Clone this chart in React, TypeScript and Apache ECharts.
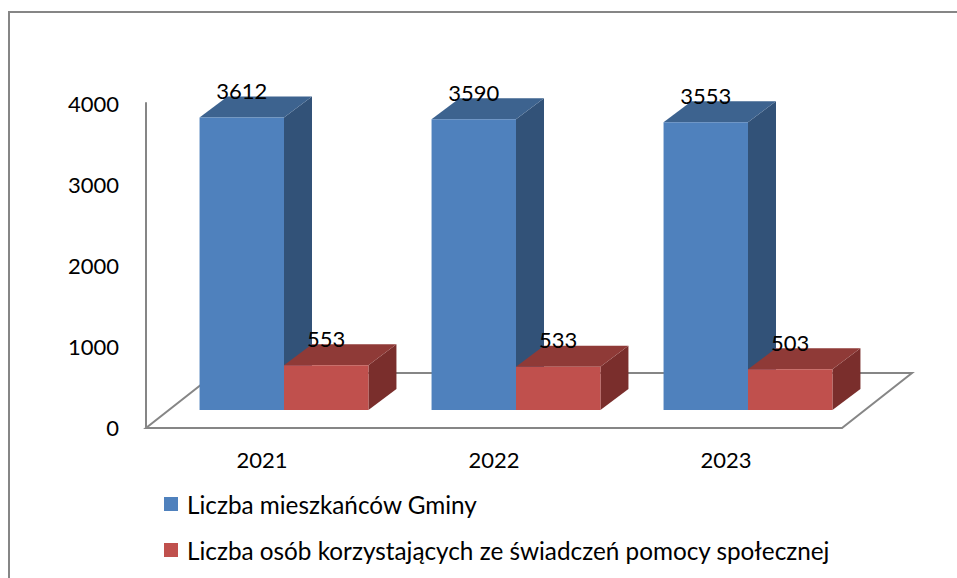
import React, { useEffect, useRef } from "react";
import * as echarts from "echarts";

const categories = ["2021", "2022", "2023"];
const residents = [3612, 3590, 3553];
const beneficiaries = [553, 533, 503];
const seriesNames = [
  "Liczba mieszkańców Gminy",
  "Liczba osób korzystających ze świadczeń pomocy społecznej",
];
const yMin = 0;
const yMax = 4000;
const yInterval = 1000;

const FONT = "Lato, 'Open Sans', sans-serif";
const BAR_RATIO = 0.364;
const SHIFT_X = 22;
const SHIFT_Y = -17;
const DEPTH_X = 28;
const DEPTH_Y = -21;
const FLOOR_DX = 70;
const FLOOR_DY = -55;

const blue = { front: "#4F81BD", top: "#3D638F", side: "#325278" };
const red = { front: "#C0504D", top: "#8F3A37", side: "#7A2E2C" };

function makeRender(side: "left" | "right", c: { front: string; top: string; side: string }) {
  return (params: any, api: any) => {
    const idx = api.value(0);
    const val = api.value(1);
    const base = api.coord([idx, 0]);
    const top = api.coord([idx, val]);
    const band = api.size([1, 0])[0];
    const w = band * BAR_RATIO;
    const cx = base[0] + SHIFT_X;
    const x0 = side === "left" ? cx - w : cx;
    const x1 = x0 + w;
    const yb = base[1] + SHIFT_Y;
    const yt = top[1] + SHIFT_Y;
    return {
      type: "group",
      children: [
        {
          type: "polygon",
          shape: { points: [[x1, yb], [x1 + DEPTH_X, yb + DEPTH_Y], [x1 + DEPTH_X, yt + DEPTH_Y], [x1, yt]] },
          style: { fill: c.side },
        },
        {
          type: "polygon",
          shape: { points: [[x0, yt], [x1, yt], [x1 + DEPTH_X, yt + DEPTH_Y], [x0 + DEPTH_X, yt + DEPTH_Y]] },
          style: { fill: c.top },
        },
        {
          type: "rect",
          shape: { x: x0, y: yt, width: w, height: yb - yt },
          style: { fill: c.front },
        },
        {
          type: "text",
          style: {
            text: String(val),
            x: (x0 + x1) / 2,
            y: yt - 27,
            align: "center",
            verticalAlign: "middle",
            fill: "#000",
            fontSize: 22,
            fontFamily: FONT,
          },
        },
      ],
    };
  };
}

function floorRender(params: any) {
  const cs = params.coordSys;
  const x = cs.x;
  const yb = cs.y + cs.height + 1;
  const w = cs.width;
  return {
    type: "polygon",
    shape: {
      points: [
        [x, yb],
        [x + w, yb],
        [x + w + FLOOR_DX, yb + FLOOR_DY],
        [x + FLOOR_DX, yb + FLOOR_DY],
      ],
    },
    style: { fill: "none", stroke: "#868686", lineWidth: 2 },
  };
}

export default function App() {
  const ref = useRef<HTMLDivElement>(null);
  useEffect(() => {
    if (!ref.current) return;
    const chart = echarts.init(ref.current, undefined, { renderer: "svg" });
    chart.setOption({
      animation: false,
      backgroundColor: "#fff",
      graphic: [
        {
          type: "rect",
          shape: { x: 9, y: 12, width: 1200, height: 1200 },
          style: { fill: "none", stroke: "#868686", lineWidth: 2 },
          z: 0,
        },
      ],
      grid: { left: 146, top: 103, width: 696, height: 324 },
      xAxis: {
        type: "category",
        data: categories,
        boundaryGap: true,
        axisLine: { show: false },
        axisTick: { show: false },
        axisLabel: { margin: 21, color: "#000", fontSize: 22, fontFamily: FONT },
        splitLine: { show: false },
      },
      yAxis: {
        type: "value",
        min: yMin,
        max: yMax,
        interval: yInterval,
        axisLine: { show: true, lineStyle: { color: "#868686", width: 2 } },
        axisTick: { show: false },
        splitLine: { show: false },
        axisLabel: {
          margin: 27,
          color: "#000",
          fontSize: 22,
          fontFamily: FONT,
          formatter: (v: number) => String(v),
        },
      },
      legend: {
        data: seriesNames,
        orient: "vertical",
        left: 159,
        top: 485,
        icon: "rect",
        itemWidth: 14,
        itemHeight: 14,
        itemGap: 18,
        textStyle: { color: "#000", fontSize: 24.3, fontFamily: FONT, lineHeight: 28, padding: [0, 0, 0, 4] },
      },
      series: [
        {
          type: "custom",
          name: "floor",
          renderItem: floorRender,
          data: [[0, 0]],
          silent: true,
          z: 1,
        },
        {
          type: "custom",
          name: seriesNames[0],
          renderItem: makeRender("left", blue),
          itemStyle: { color: blue.front },
          data: residents.map((v, i) => [i, v]),
          z: 2,
        },
        {
          type: "custom",
          name: seriesNames[1],
          renderItem: makeRender("right", red),
          itemStyle: { color: red.front },
          data: beneficiaries.map((v, i) => [i, v]),
          z: 3,
        },
      ],
    });
    return () => chart.dispose();
  }, []);
  return (
    <div
      ref={ref}
      style={{ position: "absolute", left: 0, top: 0, width: 957, height: 578 }}
    />
  );
}
